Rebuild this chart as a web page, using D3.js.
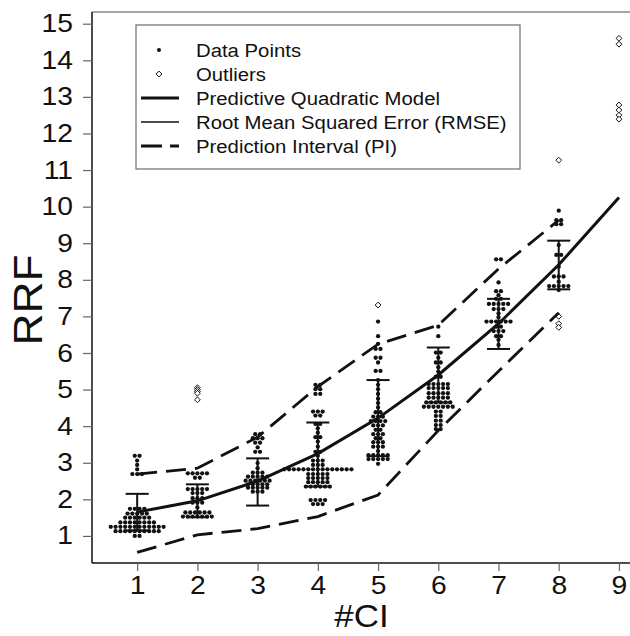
<!DOCTYPE html>
<html>
<head>
<meta charset="utf-8">
<script src="https://cdn.jsdelivr.net/npm/d3@7"></script>
<style>
  html, body { margin: 0; padding: 0; background: #fff; }
  svg { display: block; font-family: "Liberation Sans", Arial, Helvetica, sans-serif; }
</style>
</head>
<body>
<div id="chart"></div>
<script>
// #CI levels and fitted lines
const ciLevels = [1, 2, 3, 4, 5, 6, 7, 8, 9];
const modelRRF = [1.65, 1.96, 2.50, 3.25, 4.22, 5.40, 6.80, 8.41, 10.25];
const rmseUpper = [2.15, 2.41, 3.12, 4.10, 5.26, 6.15, 7.48, 9.07];
const rmseLower = [1.15, 1.51, 1.83, 2.35, 3.18, 4.65, 6.11, 7.74];
const piUpper = [2.69, 2.85, 3.70, 5.08, 6.24, 6.76, 8.30, 9.63];
const piLower = [0.55, 1.03, 1.20, 1.53, 2.12, 3.88, 5.50, 7.10];

// data points per #CI as [RRF, number of dots at that RRF]
const ci1 = [[3.19,2],[3.06,1],[2.94,1],[2.82,1],[2.69,3],[1.74,4],[1.61,5],[1.50,6],[1.37,8],[1.25,12],[1.13,10],[1.00,2]];
const ci2 = [[2.71,5],[2.59,2],[2.28,5],[2.17,3],[2.03,3],[1.91,3],[1.78,1],[1.64,6],[1.53,7]];
const ci3 = [[3.78,2],[3.67,3],[3.55,2],[3.42,1],[3.30,2],[2.99,1],[2.85,1],[2.73,3],[2.62,5],[2.51,6],[2.41,5],[2.32,5],[2.21,3]];
const ci4 = [[5.13,2],[5.01,2],[4.88,2],[4.40,3],[4.29,2],[4.06,2],[3.94,1],[3.82,1],[3.70,2],[3.58,1],[3.44,1],[3.30,2],[3.19,1],[3.06,3],[2.94,3],[2.82,15],[2.69,5],[2.58,5],[2.47,5],[2.35,6],[1.98,4],[1.87,3]];
const ci5 = [[6.86,1],[6.46,1],[6.25,1],[6.11,2],[5.87,2],[5.74,1],[5.51,2],[5.26,1],[5.13,1],[5.01,1],[4.88,1],[4.75,1],[4.63,1],[4.51,1],[4.38,2],[4.26,3],[4.14,4],[4.02,3],[3.90,2],[3.78,3],[3.67,2],[3.56,3],[3.44,3],[3.32,1],[3.21,5],[3.10,5],[2.97,1]];
const ci6 = [[6.72,1],[6.46,1],[6.01,2],[5.87,1],[5.74,2],[5.61,1],[5.49,1],[5.35,2],[5.15,5],[5.04,5],[4.90,5],[4.78,5],[4.65,6],[4.53,7],[4.40,2],[4.28,2],[4.15,2],[4.03,2],[3.92,2]];
const ci7 = [[8.56,2],[7.93,1],[7.69,2],[7.58,1],[7.48,2],[7.34,5],[7.20,3],[7.08,1],[6.98,1],[6.86,6],[6.72,2],[6.60,3],[6.46,2],[6.36,1],[6.22,1]];
const ci8 = [[9.89,1],[9.63,2],[9.52,2],[8.95,1],[8.68,2],[8.36,1],[8.09,3],[7.95,1],[7.83,5],[7.72,1]];
const pointsByCI = [ci1, ci2, ci3, ci4, ci5, ci6, ci7, ci8];

// outliers
const outlierCI  = [2, 2, 2, 2, 2, 5, 8, 8, 8, 8, 9, 9, 9, 9, 9, 9];
const outlierRRF = [5.05, 5.00, 4.95, 4.90, 4.72, 7.31, 11.27, 7.00, 6.80, 6.70, 14.60, 14.44, 12.78, 12.64, 12.50, 12.39];

const xTicks = [1, 2, 3, 4, 5, 6, 7, 8, 9];
const yTicks = [1, 2, 3, 4, 5, 6, 7, 8, 9, 10, 11, 12, 13, 14, 15];

const legendItems = [
  { label: "Data Points", kind: "dot" },
  { label: "Outliers", kind: "diamond" },
  { label: "Predictive Quadratic Model", kind: "thick" },
  { label: "Root Mean Squared Error (RMSE)", kind: "thin" },
  { label: "Prediction Interval (PI)", kind: "dash" }
];

const width = 630, height = 636;
const plotL = 92, plotR = 631, plotT = 12, plotB = 563;
const sx = 1.13; // glyphs in the original are a bit wider than Liberation Sans

const x = d3.scaleLinear().domain([0.25, 9.2]).range([plotL, plotR]);
const y = d3.scaleLinear().domain([0.26, 15.32]).range([plotB, plotT]);

const svg = d3.select("#chart").append("svg")
  .attr("width", width)
  .attr("height", height);

// frame
svg.append("line").attr("x1", plotL).attr("x2", plotR).attr("y1", plotT).attr("y2", plotT)
  .attr("stroke", "#8a8a8a").attr("stroke-width", 1.5);
svg.append("line").attr("x1", plotL).attr("x2", plotR).attr("y1", plotB).attr("y2", plotB)
  .attr("stroke", "#111").attr("stroke-width", 1.5);
svg.append("line").attr("x1", plotL).attr("x2", plotL).attr("y1", plotT).attr("y2", plotB)
  .attr("stroke", "#111").attr("stroke-width", 1.5);

// axes
const yAxis = svg.append("g")
  .attr("transform", `translate(${plotL},0)`)
  .call(d3.axisLeft(y).tickValues(yTicks).tickSize(9).tickPadding(10));
const xAxis = svg.append("g")
  .attr("transform", `translate(0,${plotB})`)
  .call(d3.axisBottom(x).tickValues(xTicks).tickSize(8).tickPadding(5));
[yAxis, xAxis].forEach(g => {
  g.select(".domain").remove();
  g.selectAll(".tick line").attr("stroke", "#666").attr("stroke-width", 1.2);
  g.selectAll(".tick text")
    .attr("fill", "#111")
    .style("font-size", "25px")
    .style("font-family", '"Liberation Sans", Arial, sans-serif');
});
yAxis.selectAll(".tick text").attr("x", -19 / sx).attr("transform", `scale(${sx},1)`);
xAxis.selectAll(".tick text").attr("transform", `scale(${sx},1)`);

svg.append("text")
  .attr("transform", `translate(${(plotL + plotR) / 2},627) scale(${sx},1)`)
  .attr("text-anchor", "middle")
  .style("font-size", "31px").attr("fill", "#111")
  .text("#CI");
svg.append("text")
  .attr("transform", `translate(42,300) rotate(-90) scale(${sx * 0.98},1)`)
  .attr("text-anchor", "middle")
  .style("font-size", "40px").attr("fill", "#111")
  .text("RRF");

// stacked dots: each RRF row is centred on its #CI
const step = 4.8;
const dots = [];
pointsByCI.forEach((rows, i) => {
  rows.forEach(([v, n]) => {
    for (let k = 0; k < n; k++) {
      dots.push({ ci: ciLevels[i], v, off: (k - (n - 1) / 2) * step });
    }
  });
});

svg.append("g").selectAll("circle")
  .data(dots)
  .enter()
  .append("circle")
  .attr("cx", d => x(d.ci) + d.off)
  .attr("cy", d => y(d.v))
  .attr("r", 2.15)
  .attr("fill", "#111");

// outliers
const diamond = s => `M0,${-s}L${s},0L0,${s}L${-s},0Z`;
svg.append("g").selectAll("path")
  .data(outlierCI.map((c, i) => ({ c, v: outlierRRF[i] })))
  .enter()
  .append("path")
  .attr("d", diamond(2.9))
  .attr("transform", d => `translate(${x(d.c)},${y(d.v)})`)
  .attr("fill", "#fff")
  .attr("stroke", "#111")
  .attr("stroke-width", 1);

// RMSE bars
const capW = 11.5;
const bars = svg.append("g").attr("stroke", "#111").attr("stroke-width", 2);
rmseUpper.forEach((u, i) => {
  const cx = x(ciLevels[i]);
  bars.append("line").attr("x1", cx).attr("x2", cx).attr("y1", y(u)).attr("y2", y(rmseLower[i]));
  bars.append("line").attr("x1", cx - capW).attr("x2", cx + capW).attr("y1", y(u)).attr("y2", y(u));
  bars.append("line").attr("x1", cx - capW).attr("x2", cx + capW).attr("y1", y(rmseLower[i])).attr("y2", y(rmseLower[i]));
});

// model and prediction interval
const line = d3.line().x(d => x(d[0])).y(d => y(d[1]));
svg.append("path")
  .attr("d", line(ciLevels.map((c, i) => [c, modelRRF[i]])))
  .attr("fill", "none").attr("stroke", "#111").attr("stroke-width", 3);

[piUpper, piLower].forEach(arr => {
  svg.append("path")
    .attr("d", line(arr.map((v, i) => [ciLevels[i], v])))
    .attr("fill", "none").attr("stroke", "#111").attr("stroke-width", 2.8)
    .attr("stroke-dasharray", "20,9");
});

// legend
const lg = svg.append("g");
lg.append("rect")
  .attr("x", 136).attr("y", 25).attr("width", 384).attr("height", 144)
  .attr("fill", "#fff").attr("stroke", "#777").attr("stroke-width", 1.3);

const item = lg.selectAll("g.item")
  .data(legendItems)
  .enter()
  .append("g")
  .attr("class", "item")
  .attr("transform", (d, i) => `translate(0,${50 + i * 24})`);

item.append("text")
  .attr("transform", `translate(196,6.5) scale(${sx},1)`)
  .style("font-size", "18px").attr("fill", "#111")
  .text(d => d.label);

item.filter(d => d.kind === "dot").append("circle")
  .attr("cx", 159).attr("cy", 0).attr("r", 2).attr("fill", "#111");
item.filter(d => d.kind === "diamond").append("path")
  .attr("d", diamond(2.9)).attr("transform", "translate(159,0)")
  .attr("fill", "#fff").attr("stroke", "#111").attr("stroke-width", 1);
item.filter(d => d.kind !== "dot" && d.kind !== "diamond").append("line")
  .attr("x1", 141).attr("x2", 179).attr("y1", 0).attr("y2", 0)
  .attr("stroke", "#111")
  .attr("stroke-width", d => d.kind === "thin" ? 1.4 : 3)
  .attr("stroke-dasharray", d => d.kind === "dash" ? "21,8" : null);
</script>
</body>
</html>
